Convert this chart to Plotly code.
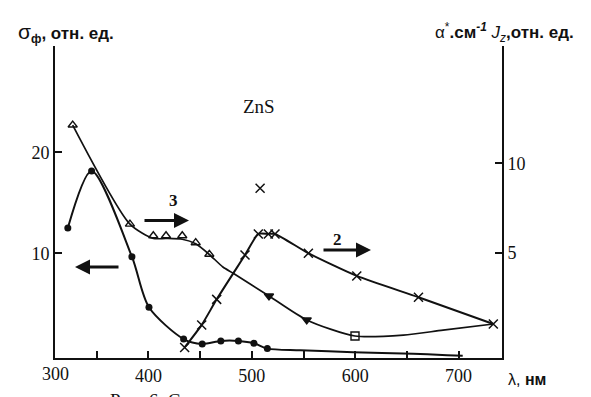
import plotly.graph_objects as go

# Curve 1: photoconductivity sigma_f (left axis), filled dots
wl1_line = [322, 345, 384, 400.5, 434, 452, 470, 487, 502, 515, 547, 598, 656, 689, 704]
sig1_line = [12.5, 18.15, 9.66, 4.65, 1.51, 1.02, 1.32, 1.32, 1.09, 0.56, 0.4, 0.2, 0.05, -0.1, -0.15]
wl1_pts = [322, 345, 384, 400.5, 434, 452, 470, 487, 502, 515]
sig1_pts = [12.5, 18.15, 9.66, 4.65, 1.51, 1.02, 1.32, 1.32, 1.09, 0.56]

# Curve 3: alpha* (right axis), triangles
wl3_line = [326.7, 382.1, 404.7, 417, 432.7, 445.7, 458.9, 472, 482, 516.6, 553.1, 599.8, 646.6, 685, 733.6]
a3_line = [12.14, 6.6, 5.8, 5.8, 5.75, 5.5, 4.9, 4.2, 3.85, 2.58, 1.24, 0.34, 0.39, 0.67, 1.01]
wl3_pts = [326.7, 382.1, 404.7, 417, 432.7, 445.7, 458.9, 516.6, 553.1, 599.8]
a3_pts = [12.14, 6.6, 5.95, 5.95, 5.95, 5.56, 4.91, 2.58, 1.24, 0.34]
sym3 = ["triangle-up-open"] * 7 + ["triangle-down", "triangle-down", "square-open"]

# Curve 2: J_z (right axis), crosses
wl2 = [435, 451.5, 466, 493.4, 506.3, 516, 522.4, 554.7, 601.5, 661.2, 733.6]
j2 = [-0.3, 0.96, 2.39, 4.87, 6.05, 6.05, 6.05, 4.97, 3.70, 2.51, 1.01]
wl2_out = [508]
j2_out = [8.6]

x_ticks = [350, 400, 450, 500, 550, 600, 650, 700]
x_ticktext = ["", "400", "", "500", "", "600", "", "700"]
yl_ticks = [10, 20]
yr_ticks = [5, 10]

INK = "#111111"
fig = go.Figure()

fig.add_trace(go.Scatter(x=wl1_line, y=sig1_line, mode="lines",
                         line=dict(color=INK, width=2, shape="spline", smoothing=0.8),
                         showlegend=False, hoverinfo="skip"))
fig.add_trace(go.Scatter(x=wl1_pts, y=sig1_pts, mode="markers",
                         marker=dict(color=INK, size=7, symbol="circle"),
                         showlegend=False))

fig.add_trace(go.Scatter(x=wl3_line, y=a3_line, mode="lines", yaxis="y2",
                         line=dict(color=INK, width=1.7, shape="spline", smoothing=0.7),
                         showlegend=False, hoverinfo="skip"))
fig.add_trace(go.Scatter(x=wl3_pts, y=a3_pts, mode="markers", yaxis="y2",
                         marker=dict(color=INK, size=8, symbol=sym3, line=dict(color=INK, width=1.4)),
                         showlegend=False))

fig.add_trace(go.Scatter(x=wl2, y=j2, mode="lines+markers", yaxis="y2",
                         line=dict(color=INK, width=2, shape="spline", smoothing=0.6),
                         marker=dict(color=INK, size=9, symbol="x-thin-open", line=dict(color=INK, width=1.5)),
                         showlegend=False))
fig.add_trace(go.Scatter(x=wl2_out, y=j2_out, mode="markers", yaxis="y2",
                         marker=dict(color=INK, size=9, symbol="x-thin-open", line=dict(color=INK, width=1.5)),
                         showlegend=False))

serif = "Liberation Serif"
sans = "Liberation Sans"

# page has an 8px body margin; the figure is sized so the plot area sits at x 55..502, y 46..358
fig.update_layout(
    width=583, height=389,
    margin=dict(l=47, r=89, t=38, b=39),
    paper_bgcolor="white", plot_bgcolor="white",
    xaxis=dict(range=[309.6, 742.0], tickvals=x_ticks, ticktext=x_ticktext,
               ticks="inside", ticklen=7, tickwidth=1.5, tickcolor=INK,
               showline=True, linecolor=INK, linewidth=2, showgrid=False, zeroline=False,
               tickfont=dict(family=serif, size=18, color=INK)),
    yaxis=dict(range=[-0.37, 30.52], tickvals=yl_ticks,
               ticks="inside", ticklen=7, tickwidth=1.5, tickcolor=INK,
               showline=True, linecolor=INK, linewidth=2, showgrid=False, zeroline=False,
               tickfont=dict(family=serif, size=18, color=INK)),
    yaxis2=dict(range=[-0.89, 16.56], tickvals=yr_ticks, overlaying="y", side="right",
                ticks="inside", ticklen=7, tickwidth=1.5, tickcolor=INK,
                showline=True, linecolor=INK, linewidth=2, showgrid=False, zeroline=False,
                tickfont=dict(family=serif, size=18, color=INK)),
    showlegend=False,
)

def px(x):
    return (x - 55) / 447.0

def py(y):
    return (358 - y) / 312.0

ann = [
    dict(x=px(55), y=py(362), xref="paper", yref="paper", text="300", showarrow=False,
         xanchor="center", yanchor="top", font=dict(family=serif, size=18, color=INK)),
    dict(x=px(16), y=py(33), xref="paper", yref="paper",
         text="<span style='font-size:21px'>σ</span><b><sub>ф</sub>, отн. ед.</b>", showarrow=False,
         xanchor="left", yanchor="middle", font=dict(family=sans, size=17, color=INK)),
    dict(x=px(576), y=py(33), xref="paper", yref="paper",
         text="α<sup>*</sup><b>.см</b><sup><b><i>-1</i></b></sup> <i>J</i><sub><i>z</i></sub><b>,отн. ед.</b>",
         showarrow=False, xanchor="right", yanchor="middle", font=dict(family=sans, size=17, color=INK)),
    dict(x=px(506), y=py(379), xref="paper", yref="paper", text="λ, <b>нм</b>", showarrow=False,
         xanchor="left", yanchor="middle", font=dict(family=sans, size=16, color=INK)),
    dict(x=px(259), y=py(106), xref="paper", yref="paper", text="ZnS", showarrow=False,
         xanchor="center", yanchor="middle", font=dict(family=serif, size=19, color=INK)),
    dict(x=px(173), y=py(200), xref="paper", yref="paper", text="<b>3</b>", showarrow=False,
         xanchor="center", yanchor="middle", font=dict(family=serif, size=17, color=INK)),
    dict(x=px(337), y=py(239), xref="paper", yref="paper", text="<b>2</b>", showarrow=False,
         xanchor="center", yanchor="middle", font=dict(family=serif, size=17, color=INK)),
    dict(x=px(75), y=py(267), xref="paper", yref="paper", ax=45, ay=0, text="",
         showarrow=True, arrowhead=2, arrowsize=1.0, arrowwidth=3, arrowcolor=INK),
    dict(x=px(189), y=py(220.5), xref="paper", yref="paper", ax=-46, ay=0, text="",
         showarrow=True, arrowhead=2, arrowsize=1.0, arrowwidth=3, arrowcolor=INK),
    dict(x=px(371), y=py(250), xref="paper", yref="paper", ax=-49, ay=0, text="",
         showarrow=True, arrowhead=2, arrowsize=1.0, arrowwidth=3, arrowcolor=INK),
    dict(x=px(108), y=py(388), xref="paper", yref="paper", text="Рис. 6. С", showarrow=False,
         xanchor="left", yanchor="top", font=dict(family=serif, size=19, color=INK)),
]
fig.update_layout(annotations=ann)

fig.write_html("out.html")
